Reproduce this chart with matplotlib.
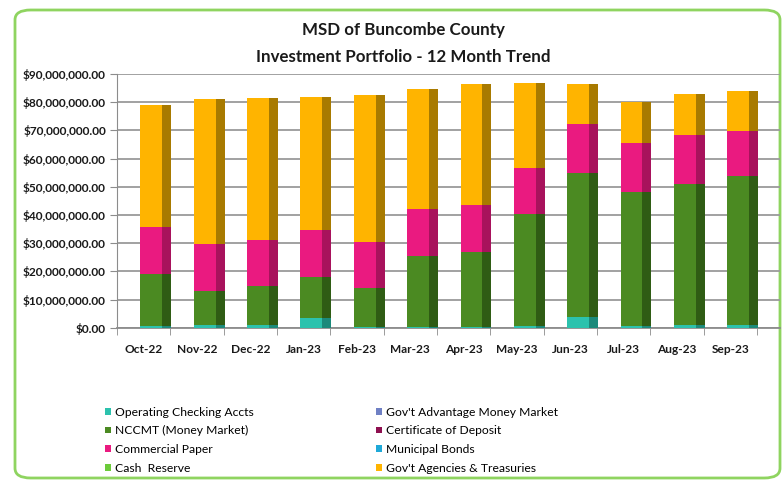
import numpy as np
import matplotlib
matplotlib.use("Agg")
import matplotlib.pyplot as plt
from matplotlib.patches import FancyBboxPatch, Patch
from matplotlib.ticker import FuncFormatter

plt.rcParams['font.family'] = ['Lato', 'DejaVu Sans']

months = ['Oct-22', 'Nov-22', 'Dec-22', 'Jan-23', 'Feb-23', 'Mar-23',
          'Apr-23', 'May-23', 'Jun-23', 'Jul-23', 'Aug-23', 'Sep-23']

# values in millions of dollars
operating_checking = [0.7, 1.0, 0.8, 3.5, 0.1, 0.3, 0.3, 0.5, 3.7, 0.5, 1.0, 1.0]
govt_advantage_mm = [0] * 12
nccmt = [18.3, 12.1, 14.0, 14.4, 14.0, 25.1, 26.7, 39.8, 51.1, 47.8, 50.0, 52.8]
cert_of_deposit = [0] * 12
commercial_paper = [16.6, 16.6, 16.3, 16.6, 16.4, 16.6, 16.5, 16.2, 17.3, 17.1, 17.4, 16.0]
municipal_bonds = [0] * 12
cash_reserve = [0] * 12
govt_agencies = [43.3, 51.4, 50.5, 47.4, 52.0, 42.6, 42.8, 30.4, 14.3, 14.6, 14.4, 14.3]

series = [
    ('Operating Checking Accts', operating_checking, '#2cc2ad', '#1c8a7b'),
    ("Gov't Advantage Money Market", govt_advantage_mm, '#6f80c4', '#4a5a96'),
    ('NCCMT (Money Market)', nccmt, '#4b8a22', '#2f5c14'),
    ('Certificate of Deposit', cert_of_deposit, '#8e1050', '#600a35'),
    ('Commercial Paper', commercial_paper, '#ea1a80', '#a8125c'),
    ('Municipal Bonds', municipal_bonds, '#1fa9d8', '#157699'),
    ('Cash  Reserve', cash_reserve, '#6ccb3a', '#4a9026'),
    ("Gov't Agencies & Treasuries", govt_agencies, '#ffb400', '#a87a00'),
]

fig = plt.figure(figsize=(7.82, 4.90), dpi=100)
W, H = 782, 490

# chart frame, kept behind the axes
frame = FancyBboxPatch((15 / W, 1 - 478 / H), 765 / W, 468 / H,
                       boxstyle='round,pad=0,rounding_size=0.02',
                       transform=fig.transFigure, facecolor='white',
                       edgecolor='#8fd460', linewidth=2.0, zorder=-5)
fig.patches.append(frame)

ax = fig.add_axes([117 / W, 1 - 327.7 / H, 663 / W, (327.7 - 74) / H])
ax.set_facecolor('none')
ax.set_zorder(2)

x = np.arange(len(months))
bottom = np.zeros(len(months))
for name, vals, front, side in series:
    v = np.array(vals) * 1e6
    # front face plus darker side strip for the 3D look
    ax.bar(x + 0.145, v, width=0.41, bottom=bottom, color=front, linewidth=0, zorder=3)
    ax.bar(x + 0.435, v, width=0.17, bottom=bottom, color=side, linewidth=0, zorder=3)
    bottom += v

ax.set_ylim(0, 90e6)
ax.set_xlim(-0.5, 11.93)
ax.set_yticks(np.arange(0, 90e6 + 1, 10e6))
ax.yaxis.set_major_formatter(FuncFormatter(lambda v, p: '${:,.2f}'.format(v)))
ax.set_xticks(x)
ax.set_xticklabels(months)
ax.set_xticks(np.arange(-0.5, 12, 1), minor=True)
ax.tick_params(axis='x', which='major', length=0, pad=12)
ax.tick_params(axis='x', which='minor', length=5, color='#8c8c8c')
ax.tick_params(axis='y', length=5, color='#8c8c8c', pad=3)
for lab in ax.get_xticklabels() + ax.get_yticklabels():
    lab.set_fontweight('bold')
    lab.set_fontsize(8.6)
    lab.set_color('#1a1a1a')

ax.grid(axis='y', color='#9a9a9a', linewidth=1.3, zorder=1)
ax.set_axisbelow(True)
for s in ['top', 'right']:
    ax.spines[s].set_visible(False)
ax.spines['left'].set_color('#8c8c8c')
ax.spines['bottom'].set_color('#8c8c8c')
ax.spines['bottom'].set_linewidth(1.3)

fig.text(403 / W, 1 - 30 / H, 'MSD of Buncombe County', ha='center', va='center',
         fontsize=12.2, fontweight='bold', color='#1a1a1a')
fig.text(403 / W, 1 - 57 / H, 'Investment Portfolio - 12 Month Trend', ha='center',
         va='center', fontsize=12.2, fontweight='bold', color='#1a1a1a')

handles = [Patch(facecolor=s[2], label=s[0]) for s in series]
for col, xpos in [(0, 105), (1, 376)]:
    hs = handles[col::2]
    fig.legend(handles=hs, loc='upper left', bbox_to_anchor=(xpos / W, 1 - 406.5 / H),
               frameon=False, fontsize=8.7, handlelength=0.5, handleheight=0.5,
               handletextpad=0.35, labelspacing=0.64, borderpad=0, borderaxespad=0)

fig.savefig('out.png', dpi=100)
